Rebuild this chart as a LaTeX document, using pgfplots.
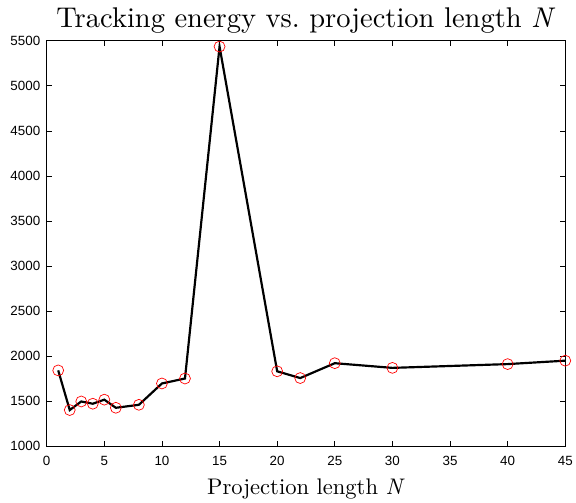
\documentclass[border=0pt]{standalone}
\usepackage{pgfplots}
\pgfplotsset{compat=1.18}
\usepackage{fontspec}
\setsansfont{Liberation Sans}
\newfontfamily\lmten{lmroman10-regular.otf}[ItalicFont=lmroman10-italic.otf]
\begin{document}
\begin{tikzpicture}
\begin{axis}[
  scale only axis,
  width=522bp, height=408bp,
  xmin=0, xmax=45, ymin=1000, ymax=5500,
  xtick={0,5,...,45},
  ytick={1000,1500,...,5500},
  tick align=inside,
  major tick length=5bp,
  axis line style={line width=0.8pt},
  tick style={line width=0.6pt, black},
  ticklabel style={font=\fontsize{13.5}{16}\selectfont\sffamily},
  xticklabel style={yshift=-7bp},
  yticklabel style={xshift=-3bp},
  /pgf/number format/assume math mode=true,
  /pgf/number format/1000 sep={},
  title={Tracking energy vs.\ projection length \textit{N}},
  every axis title/.style={at={(0.5,1)}, anchor=base, yshift=13bp,
    font=\fontsize{28.8}{32}\selectfont\lmten},
  xlabel={Projection length \textit{N}},
  every axis x label/.style={at={(0.5,0)}, anchor=base, yshift=-49bp,
    font=\fontsize{22.8}{27}\selectfont\lmten},
]
\addplot[black, line width=2.2pt, mark=o,
  mark options={red, line width=0.7pt, mark size=5.5bp}] coordinates {
  (1,1840)(2,1400)(3,1495)(4,1470)(5,1515)(6,1425)(8,1458)
  (10,1695)(12,1750)(15,5435)(20,1830)(22,1755)(25,1920)
  (30,1868)(40,1910)(45,1948)};
\end{axis}
\path ([shift={(-47bp,-55bp)}]current axis.south west)
  rectangle ([shift={(7bp,41bp)}]current axis.north east);
\end{tikzpicture}
\end{document}
